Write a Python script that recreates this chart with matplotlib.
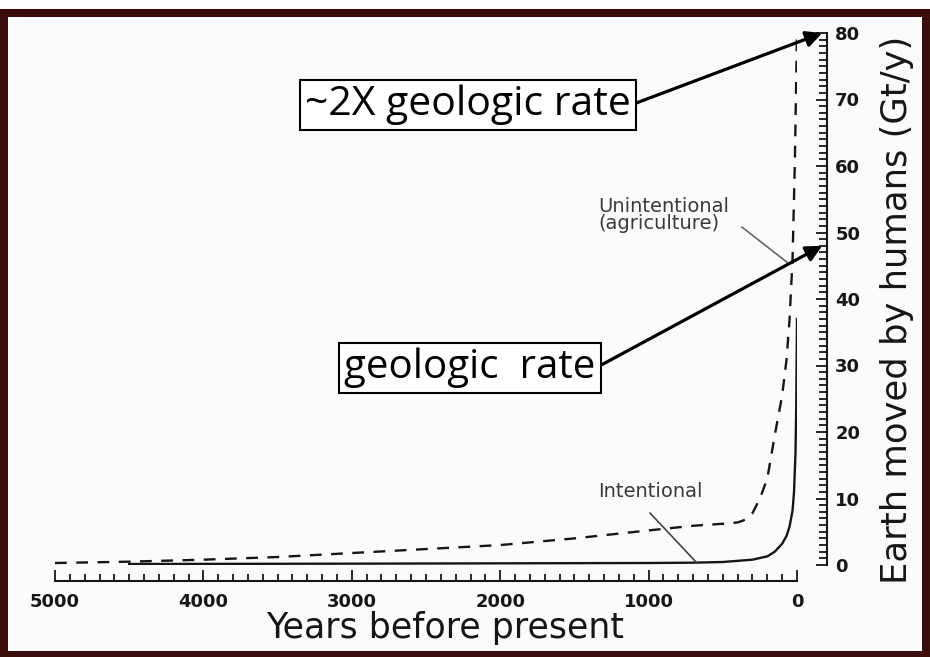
import numpy as np
import matplotlib
matplotlib.use("Agg")
import matplotlib.pyplot as plt
from matplotlib.patches import Rectangle

# values (years before present, Gt/y)
unint_years = [5000, 4500, 4000, 3500, 3000, 2500, 2000, 1500, 1000, 700, 500, 400,
               350, 300, 250, 200, 150, 100, 70, 50, 30, 15, 0]
unint_vals = [0.3, 0.5, 0.8, 1.2, 1.8, 2.4, 3.0, 4.0, 5.2, 5.9, 6.2, 6.4,
              6.8, 7.8, 10.0, 13.0, 19.5, 25.5, 31.0, 37.0, 46.0, 60.0, 80.0]

int_years = [4500, 3000, 2000, 1000, 700, 500, 300, 200, 150, 100, 70, 50, 30, 20, 10, 5, 0]
int_vals = [0.15, 0.2, 0.25, 0.3, 0.35, 0.45, 0.8, 1.3, 2.0, 3.2, 4.4, 5.8, 8.2, 11.0, 17.0, 24.0, 37.0]

x_ticks = [5000, 4000, 3000, 2000, 1000, 0]
y_ticks = [0, 10, 20, 30, 40, 50, 60, 70, 80]

geologic_rate = 48
double_rate = 80

ink = '#161616'
grey = '#3a3a3a'

fig = plt.figure(figsize=(9.3, 6.57), dpi=100, facecolor='white')

# scanned maroon frame
fig.add_artist(Rectangle((0, 0), 1, 648 / 657, transform=fig.transFigure,
                         facecolor='#3b0c0c', edgecolor='none', zorder=0))
fig.add_artist(Rectangle((8 / 930, 6 / 657), 914 / 930, 634 / 657, transform=fig.transFigure,
                         facecolor='#fbfbfb', edgecolor='none', zorder=0))

ax = fig.add_axes([55 / 930, 92 / 657, 742 / 930, 532 / 657])
ax.patch.set_alpha(0)

ax.plot(unint_years, unint_vals, color=ink, lw=1.7, dashes=(5, 4), solid_capstyle='butt')
ax.plot(int_years, int_vals, color=ink, lw=1.7)

ax.set_xlim(5000, 0)
ax.set_ylim(0, 80)

for s in ['top', 'left']:
    ax.spines[s].set_visible(False)
ax.spines['bottom'].set_position(('outward', 11.5))
ax.spines['right'].set_position(('outward', 21.5))
ax.spines['bottom'].set_linewidth(1.5)
ax.spines['right'].set_linewidth(1.5)
ax.spines['bottom'].set_color(ink)
ax.spines['right'].set_color(ink)

ax.yaxis.tick_right()
ax.yaxis.set_label_position('right')
ax.set_xticks(x_ticks)
ax.set_xticks(np.arange(0, 5001, 100), minor=True)
ax.set_yticks(y_ticks)
ax.set_yticks(np.arange(0, 81, 1), minor=True)
ax.tick_params(axis='both', which='both', direction='in', color=ink, width=1.3)
ax.tick_params(axis='x', which='major', length=8, pad=9)
ax.tick_params(axis='x', which='minor', length=5)
ax.tick_params(axis='y', which='major', length=8, pad=6)
ax.tick_params(axis='y', which='minor', length=6)
for lab in ax.get_xticklabels() + ax.get_yticklabels():
    lab.set_fontsize(13)
    lab.set_fontweight('bold')
    lab.set_color(ink)

ax.set_xlabel('Years before present', fontsize=25, color=ink)
ax.xaxis.set_label_coords(0.526, -0.087)
ax.set_ylabel('Earth moved by humans (Gt/y)', fontsize=25.5, color=ink, rotation=90)
ax.yaxis.set_label_coords(1.112, 0.479)

# curve labels
ax.text(1340, 52.6, 'Unintentional\n(agriculture)', fontsize=14, color=grey,
        va='center', ha='left', linespacing=0.9)
ax.plot([370, 60], [50.8, 45.4], color='#666666', lw=1.2)
ax.text(1340, 11.0, 'Intentional', fontsize=14, color=grey, va='center', ha='left')
ax.plot([990, 674], [7.8, 0.3], color='#444444', lw=1.2)

# boxed annotations with arrows
box = dict(boxstyle='square,pad=0.12', fc='white', ec='black', lw=1.5)
arrow = dict(arrowstyle='-|>', color='black', lw=2.3, mutation_scale=24,
             shrinkA=0, shrinkB=0, relpos=(1.0, 0.5))
ax.annotate('~2X geologic rate', xy=(1.034, double_rate), xycoords=('axes fraction', 'data'),
            xytext=(468, 552), textcoords='figure pixels', fontsize=29.5,
            family='Open Sans', ha='center', va='center', bbox=box, arrowprops=arrow)
ax.annotate('geologic  rate', xy=(1.034, geologic_rate), xycoords=('axes fraction', 'data'),
            xytext=(470, 289), textcoords='figure pixels', fontsize=29,
            family='Open Sans', ha='center', va='center', bbox=box, arrowprops=arrow)

fig.savefig('out.png', dpi=100, facecolor=fig.get_facecolor())
